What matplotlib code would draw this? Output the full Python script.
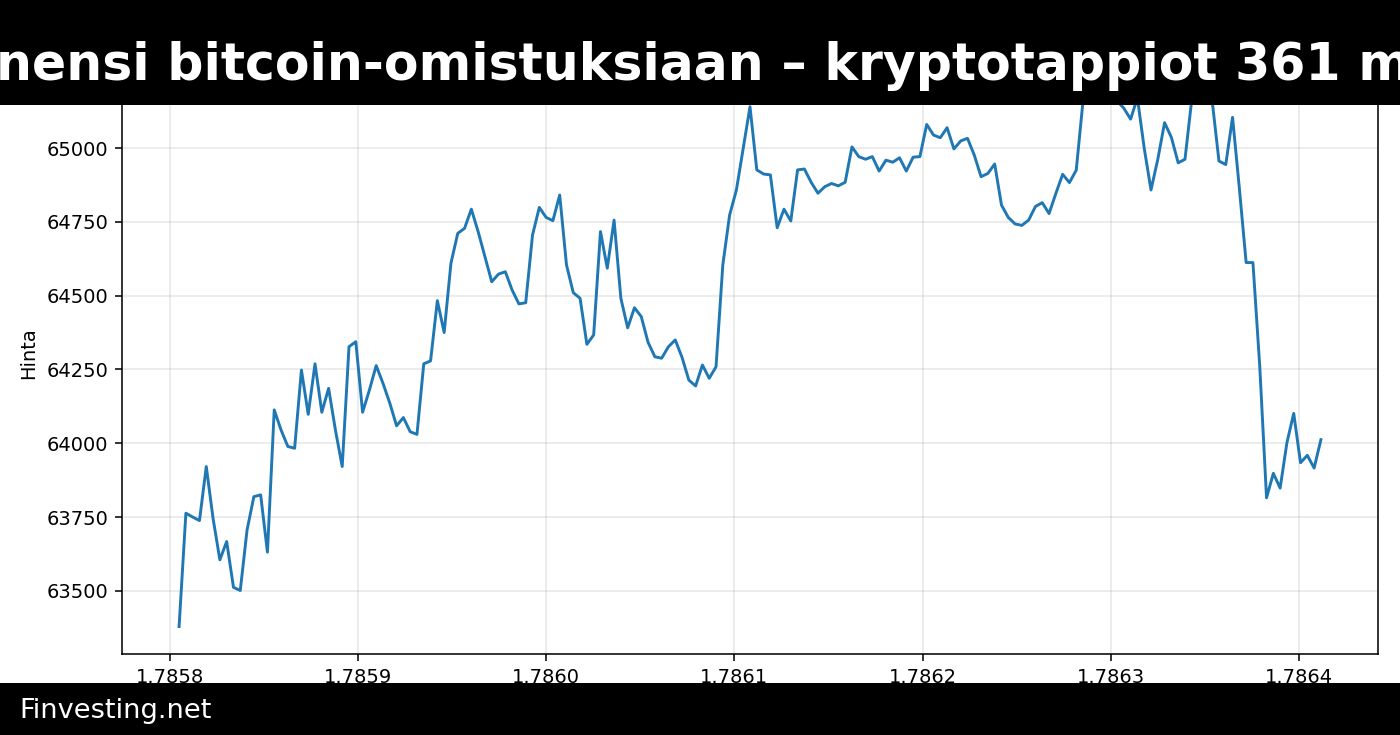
"""
Bitcoin-hintakaavio: tunneittainen hinta, musta otsikkopalkki ja alatunniste.
"""
import matplotlib
matplotlib.use('Agg')
import matplotlib.pyplot as plt
from matplotlib.patches import Rectangle
from matplotlib.ticker import MultipleLocator
import numpy as np

TITLE = "nensi bitcoin-omistuksiaan – kryptotappiot 361 m"
FOOTER = "Finvesting.net"
Y_LABEL = "Hinta"

# ensimmäisen ja viimeisen havainnon aikaleima (unix-sekunnit)
START_TS = 1785804985
END_TS = 1786411561

# hinnat kuvasta luettuna
prices = [
    63379, 63763, 63750, 63738, 63921, 63745, 63605, 63667, 63512, 63501,
    63706, 63819, 63825, 63631, 64113, 64045, 63989, 63983, 64248, 64098,
    64269, 64105, 64186, 64045, 63921, 64327, 64344, 64105, 64180, 64263,
    64203, 64136, 64059, 64087, 64039, 64030, 64269, 64279, 64483, 64375,
    64610, 64711, 64728, 64793, 64717, 64632, 64547, 64573, 64581, 64519,
    64472, 64476, 64705, 64799, 64765, 64754, 64841, 64604, 64510, 64491,
    64335, 64367, 64717, 64593, 64756, 64491, 64391, 64459, 64429, 64342,
    64293, 64288, 64327, 64350, 64291, 64214, 64194, 64265, 64220, 64259,
    64604, 64773, 64858, 64999, 65140, 64926, 64912, 64909, 64730, 64793,
    64753, 64926, 64929, 64884, 64847, 64869, 64880, 64872, 64884, 65004,
    64971, 64962, 64971, 64922, 64959, 64952, 64967, 64922, 64969, 64971,
    65080, 65044, 65035, 65069, 64997, 65024, 65033, 64976, 64903, 64914,
    64946, 64807, 64765, 64743, 64738, 64756, 64802, 64815, 64778, 64846,
    64911, 64883, 64925, 65160, 65190, 65229, 65200, 65175, 65160, 65135,
    65098, 65170, 65000, 64858, 64962, 65086, 65036, 64950, 64962, 65165,
    65210, 65190, 65160, 64956, 64944, 65104, 64864, 64612, 64612, 64261,
    63815, 63898, 63848, 64002, 64101, 63934, 63959, 63916, 64012,
]

W, H = 1400, 735


def draw_chart():
    timestamps = np.linspace(START_TS, END_TS, len(prices))

    fig = plt.figure(figsize=(10, 5.25), dpi=140)
    ax = fig.add_axes([122 / W, 1 - 654 / H, (1378 - 122) / W, (654 - 53) / H])

    ax.plot(timestamps, prices, color='#1f77b4', linewidth=1.5)
    ax.set_ylabel(Y_LABEL)
    ax.set_ylim(63286, 65322)
    ax.yaxis.set_major_locator(MultipleLocator(250))
    ax.xaxis.set_major_locator(MultipleLocator(1e5))
    ax.ticklabel_format(axis='x', useOffset=False)
    ax.grid(True, alpha=0.3)

    # otsikkopalkki ylös
    fig.add_artist(Rectangle((0, 1 - 105 / H), 1, 105 / H, transform=fig.transFigure,
                             facecolor='black', edgecolor='none', zorder=10))
    fig.text(-4 / W, 1 - 80 / H, TITLE, color='white', fontsize=26, fontweight='bold',
             ha='left', va='baseline', zorder=11)

    # alatunniste
    fig.add_artist(Rectangle((0, 0), 1, 52 / H, transform=fig.transFigure,
                             facecolor='black', edgecolor='none', zorder=10))
    fig.text(19 / W, 1 - 718 / H, FOOTER, color='white', fontsize=14,
             ha='left', va='baseline', zorder=11)
    return fig


fig = draw_chart()
fig.savefig('out.png', dpi=140)
plt.close(fig)
